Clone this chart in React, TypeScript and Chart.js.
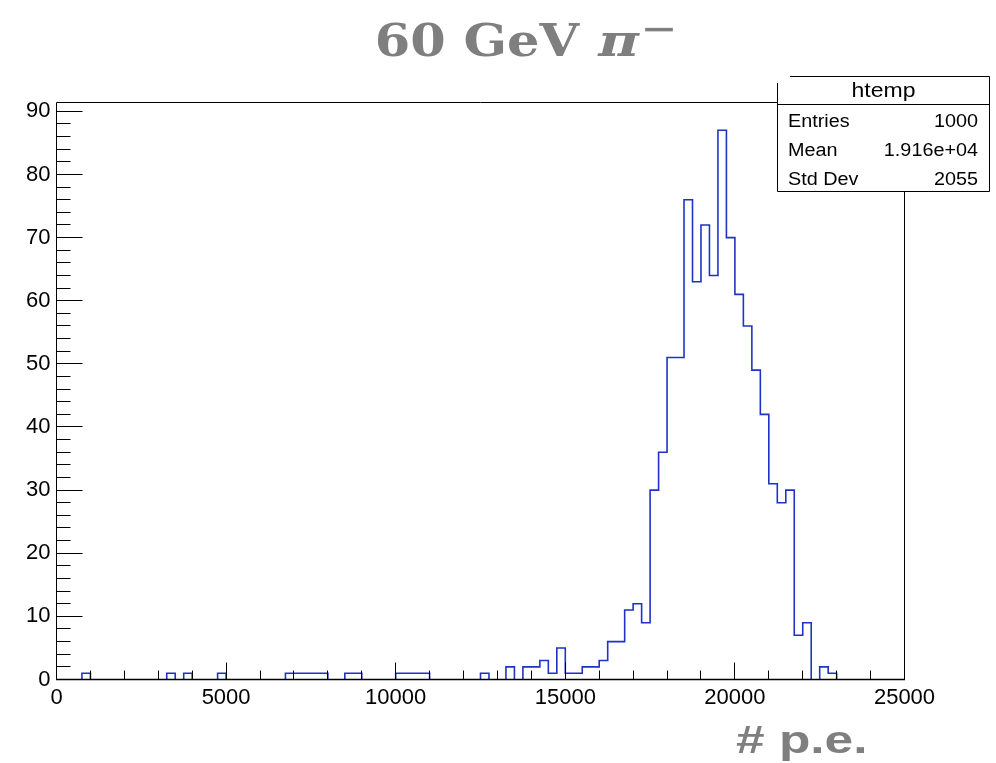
import React, { useEffect, useRef } from "react";
import { Chart, registerables } from "chart.js";

Chart.register(...registerables);

// ---- data ----
const binLow = 0;
const binWidth = 250;
const counts = [
  0, 0, 0, 1, 0, 0, 0, 0, 0, 0,
  0, 0, 0, 1, 0, 1, 0, 0, 0, 1,
  0, 0, 0, 0, 0, 0, 0, 1, 1, 1,
  1, 1, 0, 0, 1, 1, 0, 0, 0, 0,
  1, 1, 1, 1, 0, 0, 0, 0, 0, 0,
  1, 0, 0, 2, 0, 2, 2, 3, 1, 5,
  1, 1, 2, 2, 3, 6, 6, 11, 12, 9,
  30, 36, 51, 51, 76, 63, 72, 64, 87, 70,
  61, 56, 49, 42, 31, 28, 30, 7, 9, 0,
  2, 1, 0, 0, 0, 0, 0, 0, 0, 0,
];
const xMin = 0;
const xMax = 25000;
const xMajorStep = 5000;
const xMinorStep = 1000;
const yMin = 0;
const yMax = 91.4;
const yMajorStep = 10;
const yMinorStep = 2;
const statsTitle = "htemp";
const statsLabels = ["Entries", "Mean", "Std Dev"];
const statsValues = ["1000", "1.916e+04", "2055"];
const titleMain = "60 GeV";
const titleParticle = "π";
const titleCharge = "−";
const xAxisTitle = "# p.e.";

const LINE_BLUE = "#1e33c6";
const GREY = "#7f7f7f";
const SANS = "'Liberation Sans', Arial, Helvetica, sans-serif";

function fitText(
  ctx: CanvasRenderingContext2D,
  text: string,
  font: string,
  x0: number,
  x1: number,
  baseline: number,
  color: string
) {
  ctx.save();
  ctx.font = font;
  ctx.textAlign = "left";
  ctx.textBaseline = "alphabetic";
  const m = ctx.measureText(text);
  const inkW = m.actualBoundingBoxRight + m.actualBoundingBoxLeft;
  const sx = (x1 - x0) / inkW;
  ctx.translate(x0 + m.actualBoundingBoxLeft * sx, baseline);
  ctx.scale(sx, 1);
  ctx.fillStyle = color;
  ctx.fillText(text, 0, 0);
  ctx.restore();
}

function fitTextCentered(
  ctx: CanvasRenderingContext2D,
  text: string,
  font: string,
  x0: number,
  x1: number,
  centerY: number,
  color: string
) {
  ctx.save();
  ctx.font = font;
  const m = ctx.measureText(text);
  const baseline = centerY - (m.actualBoundingBoxDescent - m.actualBoundingBoxAscent) / 2;
  ctx.restore();
  fitText(ctx, text, font, x0, x1, baseline, color);
}

function scaledText(
  ctx: CanvasRenderingContext2D,
  text: string,
  font: string,
  x: number,
  y: number,
  align: CanvasTextAlign,
  sx: number
) {
  ctx.save();
  ctx.font = font;
  ctx.textAlign = align;
  ctx.textBaseline = "middle";
  ctx.fillStyle = "#000";
  ctx.translate(x, y);
  ctx.scale(sx, 1);
  ctx.fillText(text, 0, 0);
  ctx.restore();
}

const decorPlugin = {
  id: "rootDecor",
  afterDraw(chart: any) {
    const ctx: CanvasRenderingContext2D = chart.ctx;
    const { left, right, top, bottom } = chart.chartArea;
    const xs = chart.scales.x;
    const ys = chart.scales.y;
    ctx.save();
    // frame
    ctx.strokeStyle = "#000";
    ctx.lineWidth = 1;
    ctx.beginPath();
    ctx.moveTo(left, top);
    ctx.lineTo(right, top);
    ctx.lineTo(right, bottom);
    ctx.moveTo(left, top);
    ctx.lineTo(left, bottom);
    ctx.stroke();
    ctx.lineWidth = 1.5;
    ctx.beginPath();
    ctx.moveTo(left - 0.5, bottom);
    ctx.lineTo(right + 0.5, bottom);
    ctx.stroke();

    // x ticks (inward)
    ctx.lineWidth = 1;
    ctx.beginPath();
    for (let v = xMin; v <= xMax; v += xMinorStep) {
      const px = Math.floor(xs.getPixelForValue(v)) + 0.5;
      const len = v % xMajorStep === 0 ? 17 : 9;
      ctx.moveTo(px, bottom);
      ctx.lineTo(px, bottom - len);
    }
    // y ticks (inward)
    for (let v = yMin; v <= yMax; v += yMinorStep) {
      const py = Math.floor(ys.getPixelForValue(v)) + 0.5;
      const len = v % yMajorStep === 0 ? 26 : 14;
      ctx.moveTo(left, py);
      ctx.lineTo(left + len, py);
    }
    ctx.stroke();

    // stats box
    const bx0 = 777.5, bx1 = 989.5, by0 = 76.5, by1 = 191.5, bdiv = 104.5;
    ctx.fillStyle = "#fff";
    ctx.fillRect(bx0, by0, bx1 - bx0, by1 - by0);
    ctx.strokeStyle = "#000";
    ctx.lineWidth = 1;
    ctx.beginPath();
    ctx.moveTo(790, by0);
    ctx.lineTo(bx1, by0);
    ctx.lineTo(bx1, by1);
    ctx.lineTo(bx0, by1);
    ctx.lineTo(bx0, 83);
    ctx.moveTo(bx0, bdiv);
    ctx.lineTo(bx1, bdiv);
    ctx.stroke();

    scaledText(ctx, statsTitle, `20px ${SANS}`, (bx0 + bx1) / 2, 91, "center", 1.15);
    const rowY = [122, 151, 180];
    statsLabels.forEach((lab, i) => {
      scaledText(ctx, lab, `18px ${SANS}`, 788, rowY[i], "left", 1.1);
      scaledText(ctx, statsValues[i], `18px ${SANS}`, 978, rowY[i], "right", 1.1);
    });

    // title
    fitText(ctx, titleMain, `bold 44px 'DejaVu Serif', serif`, 377, 580, 56, GREY);
    fitText(ctx, titleParticle, `italic bold 44px 'DejaVu Serif', serif`, 597, 640, 56, GREY);
    fitTextCentered(ctx, titleCharge, `bold 30px 'DejaVu Sans', sans-serif`, 645, 673, 29, GREY);

    // x-axis title
    fitText(ctx, xAxisTitle, `bold 38px ${SANS}`, 736, 864, 753, GREY);
    ctx.restore();
  },
};

export default function App() {
  const canvasRef = useRef<HTMLCanvasElement | null>(null);

  useEffect(() => {
    const canvas = canvasRef.current;
    if (!canvas) return;
    // histogram outline: at every bin edge, a vertical from the previous bin's count to this
    // bin's count; empty bins leave a gap (their outline would lie on the axis)
    const points: { x: number; y: number | null }[] = [];
    let prev = 0;
    for (let i = 0; i <= counts.length; i++) {
      const edge = binLow + i * binWidth;
      const cur = i < counts.length ? counts[i] : 0;
      if (prev !== 0 || cur !== 0) {
        points.push({ x: edge, y: prev });
        points.push({ x: edge, y: cur });
      }
      if (cur === 0) points.push({ x: edge, y: null });
      prev = cur;
    }

    const chart = new Chart(canvas, {
      type: "line",
      data: {
        datasets: [
          {
            data: points,
            borderColor: LINE_BLUE,
            borderWidth: 1.6,
            pointRadius: 0,
            fill: false,
            tension: 0,
            spanGaps: false,
          },
        ],
      },
      options: {
        animation: false,
        responsive: false,
        devicePixelRatio: 1,
        layout: { padding: { left: 0, top: 102.5, right: 91.5, bottom: 0 } },
        plugins: {
          legend: { display: false },
          tooltip: { enabled: false },
          title: { display: false },
        },
        scales: {
          x: {
            type: "linear",
            min: xMin,
            max: xMax,
            grid: { display: false, drawTicks: false },
            border: { display: false },
            afterFit: (s: any) => {
              s.height = 83.5;
            },
            ticks: {
              stepSize: xMajorStep,
              includeBounds: false,
              maxRotation: 0,
              autoSkip: false,
              padding: 5,
              color: "#000",
              font: { family: SANS, size: 22 },
              callback: (v: any) => String(v),
            },
          },
          y: {
            type: "linear",
            min: yMin,
            max: yMax,
            grid: { display: false, drawTicks: false },
            border: { display: false },
            afterFit: (s: any) => {
              s.width = 56.5;
            },
            ticks: {
              stepSize: yMajorStep,
              includeBounds: false,
              padding: 6,
              color: "#000",
              font: { family: SANS, size: 22 },
              callback: (v: any) => String(v),
            },
          },
        },
      },
      plugins: [decorPlugin],
    } as any);
    return () => chart.destroy();
  }, []);

  return (
    <div style={{ position: "absolute", left: 0, top: 0, width: 996, height: 763, background: "#fff" }}>
      <canvas ref={canvasRef} width={996} height={763} style={{ width: 996, height: 763, display: "block" }} />
    </div>
  );
}
